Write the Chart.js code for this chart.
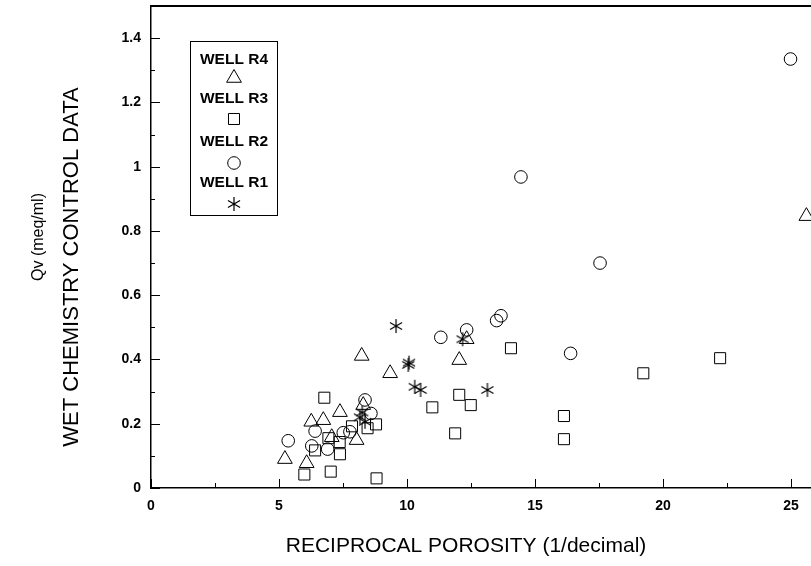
<!DOCTYPE html>
<html lang="en">
<head>
    <meta charset="UTF-8">
    <title>Qv vs Reciprocal Porosity</title>
    <script src="https://cdn.jsdelivr.net/npm/chart.js"></script>
    <style>
        body { margin: 0; background: #fff; }
        #chart { display: block; }
    </style>
</head>
<body>
    <canvas id="chart" width="811" height="566"></canvas>

    <script>
        // Values (x = reciprocal porosity, y = Qv)
        const r4X = [5.23, 6.08, 6.26, 6.73, 7.06, 7.38, 8.03, 8.29, 8.23, 9.34, 12.04, 12.33, 25.6];
        const r4Y = [0.09, 0.077, 0.206, 0.211, 0.158, 0.236, 0.149, 0.258, 0.411, 0.357, 0.398, 0.463, 0.846];

        const r3X = [5.99, 6.41, 6.77, 6.93, 7.02, 7.38, 7.37, 7.85, 8.46, 8.79, 8.81, 10.99, 11.88, 12.04, 12.49, 14.06, 16.13, 16.13, 19.23, 22.23];
        const r3Y = [0.042, 0.117, 0.281, 0.155, 0.051, 0.105, 0.143, 0.192, 0.186, 0.198, 0.03, 0.251, 0.17, 0.29, 0.258, 0.435, 0.224, 0.152, 0.357, 0.404];

        const r2X = [5.36, 6.28, 6.41, 6.9, 7.51, 7.77, 8.36, 8.59, 11.32, 12.33, 13.5, 13.67, 14.45, 16.39, 17.54, 24.98];
        const r2Y = [0.147, 0.131, 0.177, 0.121, 0.172, 0.175, 0.274, 0.232, 0.469, 0.492, 0.521, 0.536, 0.968, 0.419, 0.70, 1.335];

        const r1X = [8.16, 8.36, 8.25, 9.57, 10.05, 10.08, 10.3, 10.53, 12.17, 13.14];
        const r1Y = [0.22, 0.206, 0.235, 0.504, 0.383, 0.39, 0.315, 0.305, 0.463, 0.305];

        const xTicks = [0, 5, 10, 15, 20, 25];
        const xMinor = [2.5, 7.5, 12.5, 17.5, 22.5];
        const yTicks = [0, 0.2, 0.4, 0.6, 0.8, 1, 1.2, 1.4];
        const yMinor = [0.1, 0.3, 0.5, 0.7, 0.9, 1.1, 1.3];

        const legendNames = ['WELL R4', 'WELL R3', 'WELL R2', 'WELL R1'];
        const xTitle = 'RECIPROCAL POROSITY (1/decimal)';
        const yTitle = 'WET CHEMISTRY CONTROL DATA';
        const yUnit = 'Qv (meq/ml)';

        const FONT = '"Liberation Sans", Arial, Helvetica, sans-serif';

        // six-armed asterisk marker
        function makeAsterisk(size) {
            const c = document.createElement('canvas');
            c.width = size; c.height = size;
            const g = c.getContext('2d');
            const r = size / 2 - 1;
            g.strokeStyle = '#000';
            g.lineWidth = 1.2;
            g.beginPath();
            for (let i = 0; i < 3; i++) {
                const a = Math.PI / 2 + i * Math.PI / 3;
                g.moveTo(size / 2 + Math.cos(a) * r, size / 2 - Math.sin(a) * r);
                g.lineTo(size / 2 - Math.cos(a) * r, size / 2 + Math.sin(a) * r);
            }
            g.stroke();
            return c;
        }
        const asterisk = makeAsterisk(16);

        function toPoints(xs, ys) {
            return xs.map((x, i) => ({ x: x, y: ys[i] }));
        }

        function series(label, xs, ys, style, radius) {
            return {
                label: label,
                data: toPoints(xs, ys),
                pointStyle: style,
                pointRadius: radius,
                pointHoverRadius: radius,
                pointBorderColor: '#000',
                pointBackgroundColor: 'rgba(0,0,0,0)',
                pointBorderWidth: 1,
                showLine: false
            };
        }

        const datasets = [
            series('WELL R4', r4X, r4Y, 'triangle', 8.5),
            series('WELL R3', r3X, r3Y, 'rect', 7.8),
            series('WELL R2', r2X, r2Y, 'circle', 6.3),
            series('WELL R1', r1X, r1Y, asterisk, 7)
        ];

        // inward tick marks, top frame line and axis titles
        const frameTicks = {
            id: 'frameTicks',
            afterDatasetsDraw(chart) {
                const { ctx, chartArea, scales: { x, y } } = chart;
                ctx.save();
                ctx.strokeStyle = '#000';
                ctx.lineWidth = 1;
                ctx.beginPath();
                xTicks.forEach(v => {
                    const px = Math.round(x.getPixelForValue(v)) + 0.5;
                    ctx.moveTo(px, chartArea.bottom);
                    ctx.lineTo(px, chartArea.bottom - 9);
                });
                xMinor.forEach(v => {
                    const px = Math.round(x.getPixelForValue(v)) + 0.5;
                    ctx.moveTo(px, chartArea.bottom);
                    ctx.lineTo(px, chartArea.bottom - 5);
                });
                yTicks.forEach(v => {
                    const py = Math.round(y.getPixelForValue(v)) + 0.5;
                    ctx.moveTo(chartArea.left, py);
                    ctx.lineTo(chartArea.left + 9, py);
                });
                yMinor.forEach(v => {
                    const py = Math.round(y.getPixelForValue(v)) + 0.5;
                    ctx.moveTo(chartArea.left, py);
                    ctx.lineTo(chartArea.left + 4, py);
                });
                ctx.stroke();
                ctx.lineWidth = 2;
                ctx.beginPath();
                ctx.moveTo(chartArea.left, chartArea.top);
                ctx.lineTo(chartArea.right, chartArea.top);
                ctx.stroke();

                ctx.fillStyle = '#000';
                ctx.textAlign = 'center';
                ctx.textBaseline = 'middle';
                ctx.font = '21px ' + FONT;
                ctx.fillText(xTitle, 466, 546);
                ctx.save();
                ctx.translate(72, 267);
                ctx.rotate(-Math.PI / 2);
                ctx.font = '22px ' + FONT;
                ctx.fillText(yTitle, 0, 0);
                ctx.restore();
                ctx.save();
                ctx.translate(39, 237);
                ctx.rotate(-Math.PI / 2);
                ctx.font = '16px ' + FONT;
                ctx.fillText(yUnit, 0, 0);
                ctx.restore();
                ctx.restore();
            }
        };

        // boxed legend: name above its marker
        const boxLegend = {
            id: 'boxLegend',
            afterDraw(chart) {
                const ctx = chart.ctx;
                const textY = [60, 99, 142, 183];
                const markY = [78, 119, 163, 204];
                const cx = 234;
                ctx.save();
                ctx.strokeStyle = '#000';
                ctx.lineWidth = 1;
                ctx.strokeRect(190.5, 41.5, 87, 174);
                ctx.font = 'bold 15.5px ' + FONT;
                ctx.textAlign = 'center';
                ctx.textBaseline = 'middle';
                legendNames.forEach((name, i) => {
                    ctx.fillStyle = '#000';
                    ctx.fillText(name, cx, textY[i]);
                    const d = chart.data.datasets[i];
                    ctx.fillStyle = 'rgba(0,0,0,0)';
                    Chart.helpers.drawPoint(ctx, {
                        pointStyle: d.pointStyle,
                        radius: d.pointRadius,
                        borderWidth: 1,
                        rotation: 0
                    }, cx, markY[i]);
                });
                ctx.restore();
            }
        };

        const ctx = document.getElementById('chart').getContext('2d');
        const chart = new Chart(ctx, {
            type: 'scatter',
            data: { datasets: datasets },
            plugins: [frameTicks, boxLegend],
            options: {
                responsive: false,
                animation: false,
                layout: { autoPadding: false, padding: { top: 6, right: 0, bottom: 0, left: 0 } },
                plugins: {
                    legend: { display: false },
                    tooltip: { enabled: false }
                },
                scales: {
                    x: {
                        type: 'linear',
                        min: 0,
                        max: 25.78,
                        afterBuildTicks: s => { s.ticks = xTicks.map(v => ({ value: v })); },
                        afterFit: s => { s.height = 78; s.paddingLeft = 0; s.paddingRight = 0; },
                        grid: { display: false, drawTicks: false },
                        border: { display: true, color: '#000', width: 1.5 },
                        ticks: {
                            color: '#000',
                            padding: 10,
                            maxRotation: 0,
                            callback: v => String(v),
                            font: { family: FONT, size: 14, weight: 'bold' }
                        }
                    },
                    y: {
                        type: 'linear',
                        min: 0,
                        max: 1.5,
                        afterBuildTicks: s => { s.ticks = yTicks.map(v => ({ value: v })); },
                        afterFit: s => { s.width = 151; s.paddingTop = 0; s.paddingBottom = 0; },
                        grid: { display: false, drawTicks: false },
                        border: { display: true, color: '#000', width: 1.5 },
                        ticks: {
                            color: '#000',
                            padding: 10,
                            callback: v => String(v),
                            font: { family: FONT, size: 14, weight: 'bold' }
                        }
                    }
                }
            }
        });
    </script>
</body>
</html>
